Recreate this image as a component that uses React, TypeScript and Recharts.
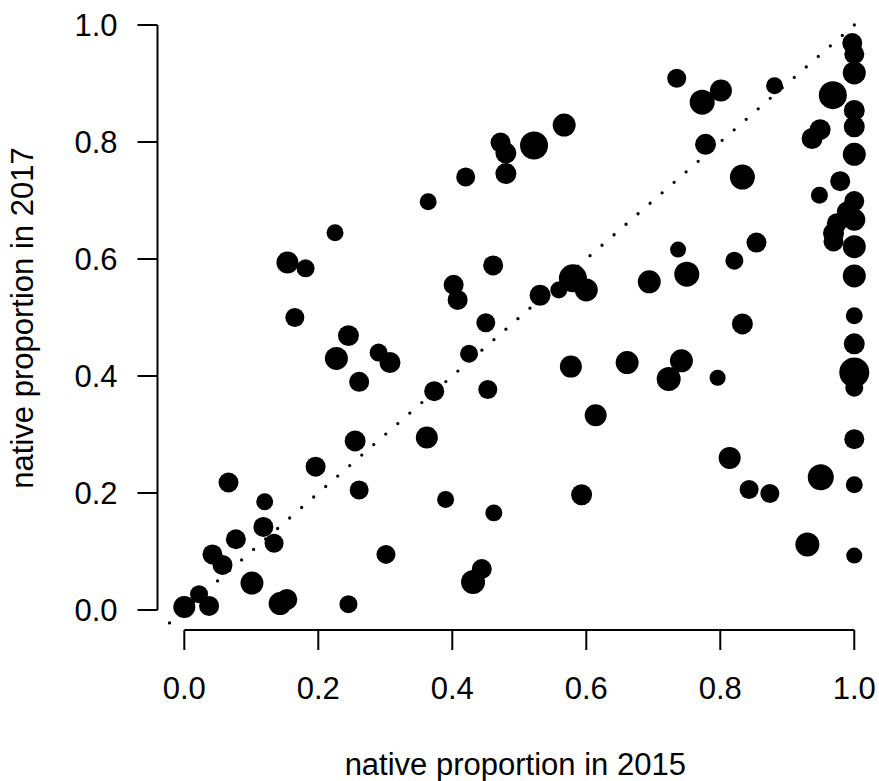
import { ScatterChart, Scatter, XAxis, YAxis, ZAxis, ReferenceLine, Label } from 'recharts'

// native proportion per site, 2015 vs 2017; n drives the point area
const prop2015 = [
  0.225, 0.154, 0.181, 0.165, 0.245, 0.227, 0.29, 0.307, 0.261, 0.255,
  0.196, 0.066, 0.261, 0.12, 0.118, 0.134, 0.077, 0.042, 0.057, 0.101,
  0.301, 0.0, 0.022, 0.037, 0.143, 0.153, 0.245, 0.735, 0.567, 0.522,
  0.472, 0.48, 0.48, 0.42, 0.364, 0.737, 0.694, 0.75, 0.461, 0.402,
  0.408, 0.45, 0.531, 0.559, 0.58, 0.6, 0.425, 0.373, 0.453, 0.362,
  0.577, 0.661, 0.742, 0.723, 0.614, 0.39, 0.462, 0.593, 0.444, 0.431,
  0.773, 0.801, 0.881, 0.778, 0.833, 0.968, 0.997, 1.0, 1.0, 1.0,
  1.0, 1.0, 0.937, 0.949, 0.979, 0.948, 1.0, 0.989, 1.0, 0.974,
  0.969, 0.969, 1.0, 1.0, 1.0, 0.833, 0.854, 0.821, 0.796, 1.0,
  1.0, 1.0, 1.0, 0.814, 0.843, 0.874, 0.95, 1.0, 0.93, 1.0,
]

const prop2017 = [
  0.645, 0.594, 0.584, 0.5, 0.469, 0.43, 0.44, 0.423, 0.39, 0.289,
  0.245, 0.218, 0.205, 0.185, 0.142, 0.114, 0.121, 0.095, 0.077, 0.046,
  0.095, 0.005, 0.027, 0.007, 0.011, 0.018, 0.01, 0.909, 0.829, 0.794,
  0.799, 0.781, 0.746, 0.74, 0.698, 0.616, 0.561, 0.574, 0.589, 0.556,
  0.53, 0.491, 0.538, 0.547, 0.567, 0.547, 0.438, 0.374, 0.377, 0.295,
  0.416, 0.423, 0.426, 0.395, 0.333, 0.189, 0.166, 0.197, 0.07, 0.048,
  0.868, 0.888, 0.896, 0.796, 0.74, 0.88, 0.969, 0.95, 0.918, 0.854,
  0.826, 0.779, 0.806, 0.821, 0.733, 0.709, 0.699, 0.681, 0.667, 0.661,
  0.644, 0.63, 0.621, 0.571, 0.503, 0.489, 0.628, 0.597, 0.397, 0.455,
  0.406, 0.38, 0.292, 0.26, 0.206, 0.199, 0.227, 0.214, 0.112, 0.093,
]

const sampleSize = [
  72, 121, 81, 90, 110, 132, 81, 110, 100, 110,
  100, 100, 90, 72, 100, 90, 100, 100, 100, 132,
  90, 121, 81, 100, 132, 110, 81, 90, 132, 196,
  100, 110, 110, 90, 72, 64, 132, 156, 100, 100,
  100, 90, 110, 72, 196, 132, 81, 100, 90, 121,
  121, 132, 132, 144, 121, 72, 72, 110, 100, 144,
  156, 121, 72, 110, 156, 196, 100, 100, 132, 110,
  110, 132, 110, 110, 100, 72, 100, 100, 121, 100,
  110, 100, 132, 132, 72, 110, 100, 81, 64, 110,
  225, 81, 100, 121, 90, 90, 169, 72, 144, 64,
]

const ticks = [0, 0.2, 0.4, 0.6, 0.8, 1.0]

const points = prop2015.map((x, i) => ({ x, y: prop2017[i], n: sampleSize[i] }))

const FONT = '"Liberation Sans", Arial, sans-serif'
const tickStyle = { fontSize: 31, fill: '#000', fontFamily: FONT }

const XTitle = (props: any) => {
  const { x, y, width, height } = props.viewBox
  return (
    <text x={x + width / 2 - 3} y={y + height - 6} textAnchor="middle" fontSize={31} fontFamily={FONT} fill="#000">
      native proportion in 2015
    </text>
  )
}

const YTitle = (props: any) => {
  const { x, y, height } = props.viewBox
  const cx = x + 22
  const cy = y + height / 2 - 7
  return (
    <text x={cx} y={cy} dy="0.355em" transform={`rotate(-90, ${cx}, ${cy})`} textAnchor="middle" fontSize={31} fontFamily={FONT} fill="#000">
      native proportion in 2017
    </text>
  )
}

export default function App() {
  return (
    <div style={{ position: 'absolute', left: 0, top: 0, width: 879, height: 781, background: '#fff' }}>
      <ScatterChart width={879} height={781} margin={{ top: 20, right: 0, bottom: 0, left: 0 }}>
        <XAxis
          type="number"
          dataKey="x"
          domain={[-0.04, 1.0369]}
          allowDataOverflow
          ticks={ticks}
          interval={0}
          tickFormatter={(v: number) => v.toFixed(1)}
          axisLine={false}
          tickLine={{ stroke: '#000', strokeWidth: 2 }}
          tickSize={20}
          tickMargin={27}
          tick={tickStyle}
          height={151}
        >
          <Label content={XTitle} />
        </XAxis>
        <YAxis
          type="number"
          dataKey="y"
          domain={[-0.0342, 1.0085]}
          allowDataOverflow
          ticks={ticks}
          interval={0}
          tickFormatter={(v: number) => v.toFixed(1)}
          axisLine={false}
          tickLine={{ stroke: '#000', strokeWidth: 2 }}
          tickSize={20}
          tickMargin={20}
          tick={tickStyle}
          width={157.5}
        >
          <Label content={YTitle} />
        </YAxis>
        <ZAxis type="number" dataKey="n" domain={[0, 250]} range={[0, 250 * Math.PI]} />
        <ReferenceLine
          segment={[{ x: 0, y: -0.0342 }, { x: 1, y: -0.0342 }]}
          stroke="#000"
          strokeWidth={2}
          ifOverflow="visible"
        />
        <ReferenceLine
          segment={[{ x: -0.04, y: 0 }, { x: -0.04, y: 1 }]}
          stroke="#000"
          strokeWidth={2}
          ifOverflow="visible"
        />
        <Scatter data={points} fill="#000" isAnimationActive={false} />
        <ReferenceLine
          segment={[{ x: -0.04, y: -0.04 }, { x: 1.04, y: 1.04 }]}
          stroke="#000"
          strokeWidth={3.3}
          strokeDasharray="0 15.95"
          strokeLinecap="round"
          ifOverflow="hidden"
        />
      </ScatterChart>
    </div>
  )
}
